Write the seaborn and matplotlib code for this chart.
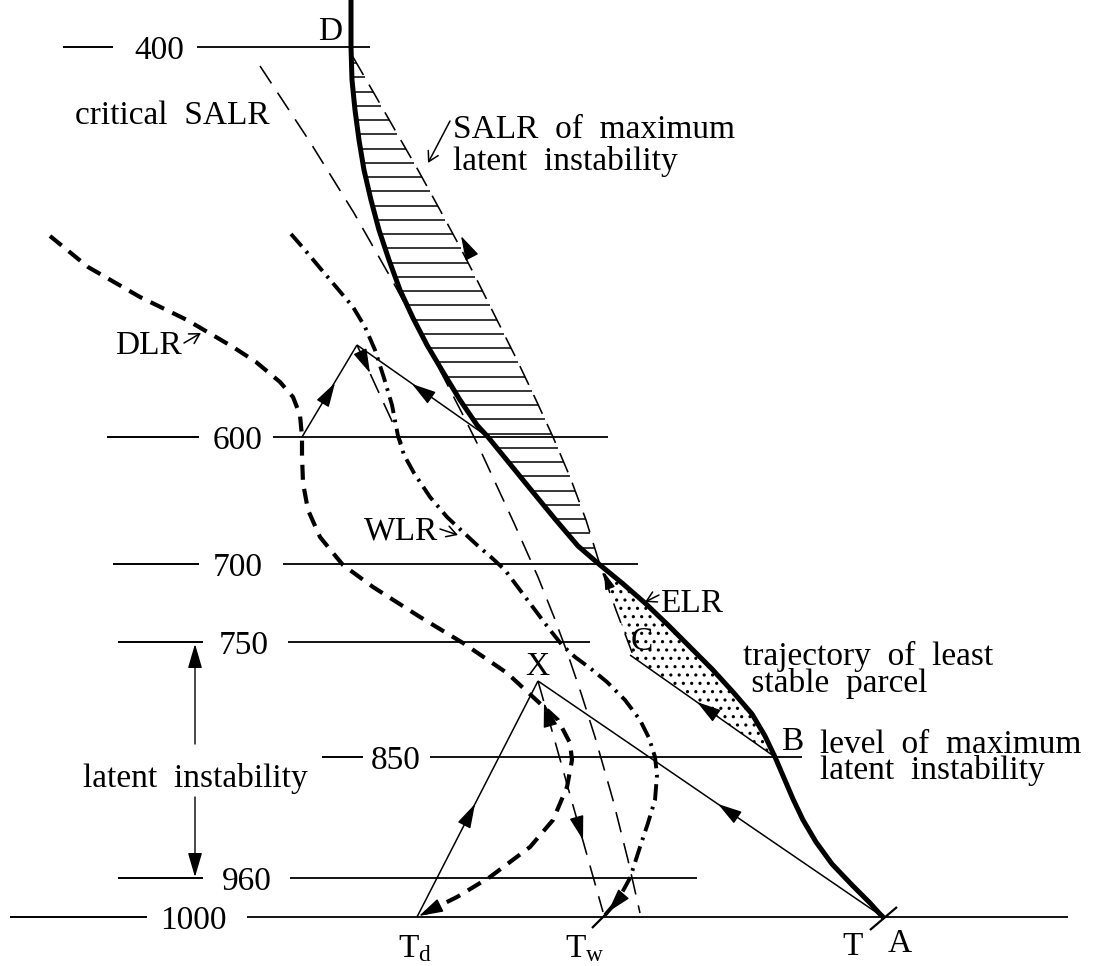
import numpy as np
import pandas as pd
import matplotlib
matplotlib.use("Agg")
import matplotlib.pyplot as plt
import seaborn as sns

# ---------------- data (schematic diagram coordinates: x right, y downward) -------------
levels = ['400', '600', '700', '750', '850', '960', '1000']
level_y = [47, 437, 564, 642, 757, 878, 917]
tick_x0 = [63, 107, 113, 118, 322, 118, 10]
tick_x1 = [113, 199, 199, 203, 363, 203, 147]
label_x = [159, 238, 238, 244, 396, 247, 193]
line_x0 = [197, 273, 283, 288, 430, 290, 247]
line_x1 = [370, 608, 638, 590, 802, 697, 1068]

# environmental lapse rate (thick solid)
elr_x = [351, 351, 352, 355, 359, 364, 371, 379, 389, 400, 413, 427, 443, 460, 477, 488,
         510, 532, 555, 578, 600, 622, 645, 668, 690, 712, 733, 752, 765, 775, 784, 793,
         803, 816, 832, 852, 870, 879, 883]
elr_y = [0, 47, 80, 110, 140, 170, 200, 230, 260, 290, 318, 345, 372, 400, 425, 437,
         464, 491, 519, 546, 565, 583, 603, 625, 647, 669, 692, 714, 736, 757, 778, 799,
         820, 842, 864, 885, 903, 913, 917]

# SALR of maximum latent instability (thin dashed, from top down to C)
salr_x = [353, 375, 395, 418, 440, 460, 477, 497, 517, 536, 553, 570, 586, 600, 616, 633]
salr_y = [57, 95, 130, 170, 210, 247, 280, 320, 360, 400, 437, 477, 520, 565, 610, 655]

# critical SALR (thin dashed)
crit_x = [260, 310, 354, 392, 426, 464, 477, 514, 538, 554, 567, 581, 595, 613, 628, 640]
crit_y = [66, 142, 213, 280, 343, 417, 443, 523, 577, 617, 652, 693, 737, 800, 860, 913]

# dew-point lapse rate (thick dashed)
dlr_x = [50, 88, 140, 187, 233, 256, 280, 293, 300, 302, 302, 303, 308, 320, 333, 343,
         373, 420, 463, 507, 533, 558, 570, 572, 567, 553, 530, 490, 457, 417]
dlr_y = [236, 267, 297, 320, 347, 362, 382, 397, 415, 437, 455, 483, 510, 537, 553, 565,
         587, 617, 643, 673, 697, 720, 743, 760, 787, 820, 847, 877, 897, 917]

# wet-bulb lapse rate (thick dash-dot)
wlr_x = [291, 305, 320, 337, 353, 365, 375, 384, 392, 398, 404, 414, 430, 447, 463, 477,
         492, 505, 520, 535, 550, 562, 575, 590, 607, 625, 640, 649, 655, 657, 655, 648,
         640, 630, 618, 605]
wlr_y = [234, 250, 268, 288, 307, 327, 350, 378, 405, 436, 455, 473, 497, 517, 532, 545,
         558, 570, 590, 610, 630, 645, 657, 668, 682, 700, 720, 738, 757, 775, 800, 823,
         847, 878, 900, 915]

# key points
pt_A = (883, 917)
pt_B = (775, 757)
pt_C = (630, 655)
pt_X = (538, 681)
pt_Td = (417, 917)
pt_Tw = (603, 912)
pt_P = (357, 345)      # upper Normand construction apex
pt_d600 = (302, 437)
pt_e600 = (488, 437)
pt_w600 = (402, 443)

# ---------------- style ----------------
sns.set_theme(style="white")
plt.rcParams["font.family"] = ["Liberation Serif", "DejaVu Serif"]
plt.rcParams["mathtext.fontset"] = "custom"
plt.rcParams["mathtext.rm"] = "Liberation Serif"
plt.rcParams["mathtext.it"] = "Liberation Serif:italic"
plt.rcParams["hatch.linewidth"] = 1.1
plt.rcParams["text.color"] = "black"

K = "black"
FS = 24

fig = plt.figure(figsize=(11, 9.66), dpi=100)
ax = fig.add_axes([0, 0, 1, 1])


def curve(xs, ys, lw, ls, z=3):
    df = pd.DataFrame({"x": xs, "y": ys})
    sns.lineplot(data=df, x="x", y="y", sort=False, estimator=None, color=K,
                 linewidth=lw, linestyle=ls, legend=False, ax=ax, zorder=z)


def seg(p, q, lw=1.1, ls="-", z=3):
    ax.plot([p[0], q[0]], [p[1], q[1]], color=K, lw=lw, linestyle=ls, zorder=z,
            solid_capstyle="butt")


def head(tip, direction, size=20, back=14, hl=0.75, hw=0.22):
    d = np.array(direction, float)
    d /= np.hypot(*d)
    frm = np.array(tip) - back * d
    ax.annotate("", xy=tip, xytext=frm,
                arrowprops=dict(arrowstyle=f"-|>,head_length={hl},head_width={hw}",
                                fc=K, ec=K, lw=1.0, shrinkA=0, shrinkB=0,
                                mutation_scale=size), zorder=6)


def pointer(frm, to):
    ax.annotate("", xy=to, xytext=frm,
                arrowprops=dict(arrowstyle="->,head_length=0.35,head_width=0.2",
                                color=K, lw=1.1, shrinkA=0, shrinkB=0,
                                mutation_scale=20), zorder=6)


# pressure levels
for lab, y, a0, a1, lx, b0, b1 in zip(levels, level_y, tick_x0, tick_x1, label_x,
                                       line_x0, line_x1):
    ax.hlines(y, a0, a1, color=K, lw=1.4)
    ax.hlines(y, b0, b1, color=K, lw=1.3)
    ax.text(lx, y, lab, fontsize=FS, ha="center", va="center_baseline", color=K)

# hatched positive area between ELR and SALR of maximum latent instability
hy = 63 + 14.25 * np.arange(35)
hx0 = np.interp(hy, elr_y, elr_x)
hx1 = np.interp(hy, salr_y, salr_x)
ax.hlines(hy, hx0, hx1, color=K, lw=1.1)

# dotted negative area B-C-700
ys_e = np.linspace(565, 757, 40)
ys_s = np.linspace(655, 565, 20)
px = np.concatenate([np.interp(ys_e, elr_y, elr_x), [pt_B[0], pt_C[0]],
                     np.interp(ys_s, salr_y, salr_x)])
py = np.concatenate([ys_e, [pt_B[1], pt_C[1]], ys_s])
ax.fill(px, py, facecolor="none", edgecolor=K, linewidth=0, hatch="..", zorder=2)

# curves
curve(elr_x, elr_y, 3.6, "-", z=4)
curve(salr_x, salr_y, 1.15, (0, (13, 7)))
curve(crit_x, crit_y, 1.15, (0, (13, 7)))
curve(dlr_x, dlr_y, 3.0, (0, (3.6, 2.2)))
curve(wlr_x, wlr_y, 2.8, (0, (4.2, 1.7, 0.7, 1.7)))

# Normand constructions
seg(pt_d600, pt_P)
seg(pt_e600, pt_P)
seg(pt_P, pt_w600, lw=1.15, ls=(0, (13, 7)))
seg(pt_Td, pt_X)
seg(pt_A, pt_X)
seg(pt_X, pt_Tw, lw=1.15, ls=(0, (13, 7)))
seg(pt_B, pt_C)
seg((870, 930), (897, 907), lw=1.6)
seg((592, 928), (607, 913), lw=1.6)

# arrowheads along paths
head((461, 236), (-17, -33))
head((335, 383), (55, -92))
head((412, 384), (-131, -92))
head((370, 373), (45, 98))
head((697, 702), (-145, -102))
head((718, 804), (-345, -236))
head((475, 804), (121, -236))
head((583, 840), (65, 231))
head((544, 703), (-65, -231))
head((604, 572), (-0.37, -1), size=14)
head((419, 916), (-40, 20))
head((608, 912), (-13, 15))

# latent instability range arrows
head((195, 644), (0, -1), back=100)
head((195, 877), (0, 1), back=80)

# label pointers
pointer((450, 121), (428, 163))
pointer((184, 343), (201, 333))
pointer((440, 529), (458, 535))
pointer((659, 595), (645, 602))

# texts
def t(s, x, y, ha="center", ls=1.0):
    ax.text(x, y, s, fontsize=FS, ha=ha, va="center_baseline", color=K,
            linespacing=ls, multialignment="left")

t("D", 330, 28)
t("critical  SALR", 172, 112)
t("SALR  of  maximum\nlatent  instability", 453, 142, ha="left", ls=1.05)
t("DLR", 148, 342)
t("WLR", 438, 528, ha="right")
t("ELR", 660, 600, ha="left")
t("C", 642, 638)
t("X", 537, 663)
t("B", 792, 738)
t("T", 853, 943)
t("A", 900, 940)
t(r"T$_{\mathrm{d}}$", 415, 945)
t(r"T$_{\mathrm{w}}$", 585, 945)
t("trajectory  of  least\n stable  parcel", 743, 668, ha="left", ls=0.85)
t("level  of  maximum\nlatent  instability", 820, 757, ha="left", ls=0.8)
t("latent  instability", 195, 775)

ax.set_xlim(0, 1100)
ax.set_ylim(966, 0)
ax.axis("off")
fig.savefig("out.png", dpi=100, facecolor="white")
